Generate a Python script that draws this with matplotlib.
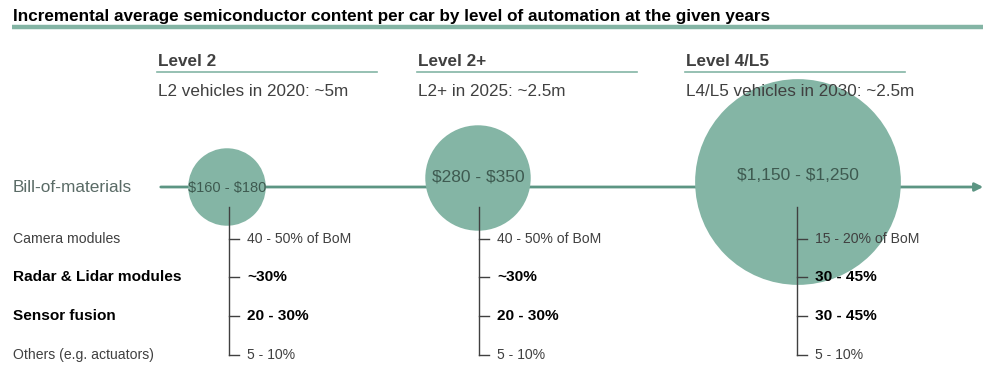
import matplotlib.pyplot as plt
from matplotlib.patches import Circle
import numpy as np

plt.rcParams['font.family'] = ['Liberation Sans', 'DejaVu Sans']

title = "Incremental average semiconductor content per car by level of automation at the given years"
levels = ["Level 2", "Level 2+", "Level 4/L5"]
subtitles = ["L2 vehicles in 2020: ~5m", "L2+ in 2025: ~2.5m", "L4/L5 vehicles in 2030: ~2.5m"]
bom_labels = ["$160 - $180", "$280 - $350", "$1,150 - $1,250"]
bom_low = [160, 280, 1150]
bom_high = [180, 350, 1250]
components = ["Camera modules", "Radar & Lidar modules", "Sensor fusion", "Others (e.g. actuators)"]
comp_bold = [False, True, True, False]
shares = [
    ["40 - 50% of BoM", "~30%", "20 - 30%", "5 - 10%"],
    ["40 - 50% of BoM", "~30%", "20 - 30%", "5 - 10%"],
    ["15 - 20% of BoM", "30 - 45%", "30 - 45%", "5 - 10%"],
]

teal = "#84b5a5"
line_teal = "#5c9583"
dark = "#404040"

fig = plt.figure(figsize=(9.92, 3.73), dpi=100)
ax = fig.add_axes([0, 0, 1, 1])
ax.set_xlim(0, 992)
ax.set_ylim(373, 0)
ax.set_aspect('equal')
ax.axis('off')

# title
ax.text(13, 16, title, fontsize=12.3, fontweight='bold', color='black', va='center', ha='left')
ax.plot([12, 983], [27, 27], color=teal, lw=3.2, solid_capstyle='butt')

# column headers
col_x = [158, 418, 686]
for x, lv, st in zip(col_x, levels, subtitles):
    ax.text(x, 62, lv, fontsize=12.3, fontweight='bold', color=dark, va='center', ha='left')
    ax.plot([x - 1, x + 219], [72, 72], color=teal, lw=1.2)
    ax.text(x, 91, st, fontsize=12.3, color=dark, va='center', ha='left', zorder=5)

# bill-of-materials axis
ax.text(13, 188, "Bill-of-materials", fontsize=12.4, color="#5a6b66", va='center', ha='left')
ax.annotate("", xy=(986, 187), xytext=(158, 187),
            arrowprops=dict(arrowstyle='-|>', color=line_teal, lw=2, mutation_scale=12))

# circles
mid = (np.array(bom_low) + np.array(bom_high)) / 2
radii = 2.97 * np.sqrt(mid)
centers = [(227, 187), (478, 178), (798, 182)]
label_y = [188, 177, 176]
label_size = [10.5, 12.5, 12.5]
for (cx, cy), r, lab, ly, fs in zip(centers, radii, bom_labels, label_y, label_size):
    ax.add_patch(Circle((cx, cy), r, facecolor=teal, edgecolor='none', zorder=3))
    ax.text(cx, ly, lab.replace("$", r"\$"), fontsize=fs, color="#3e5a50",
            va='center', ha='center', zorder=4)

# component rows
row_y = [239, 277, 316, 355]
for y, name, b in zip(row_y, components, comp_bold):
    if b:
        ax.text(13, y, name, fontsize=11.1, fontweight='bold', color='black', va='center', ha='left')
    else:
        ax.text(13, y, name, fontsize=10.1, color=dark, va='center', ha='left')

tree_x = [229, 479, 797]
for tx, col in zip(tree_x, shares):
    ax.plot([tx, tx], [207, row_y[-1]], color=dark, lw=1, zorder=5)
    for y, s, b in zip(row_y, col, comp_bold):
        ax.plot([tx, tx + 10], [y, y], color=dark, lw=1, zorder=5)
        if b:
            ax.text(tx + 18, y, s, fontsize=11.1, fontweight='bold', color='black', va='center', ha='left', zorder=6)
        else:
            ax.text(tx + 18, y, s, fontsize=10.1, color=dark, va='center', ha='left', zorder=6)

fig.savefig("out.png", dpi=100)
